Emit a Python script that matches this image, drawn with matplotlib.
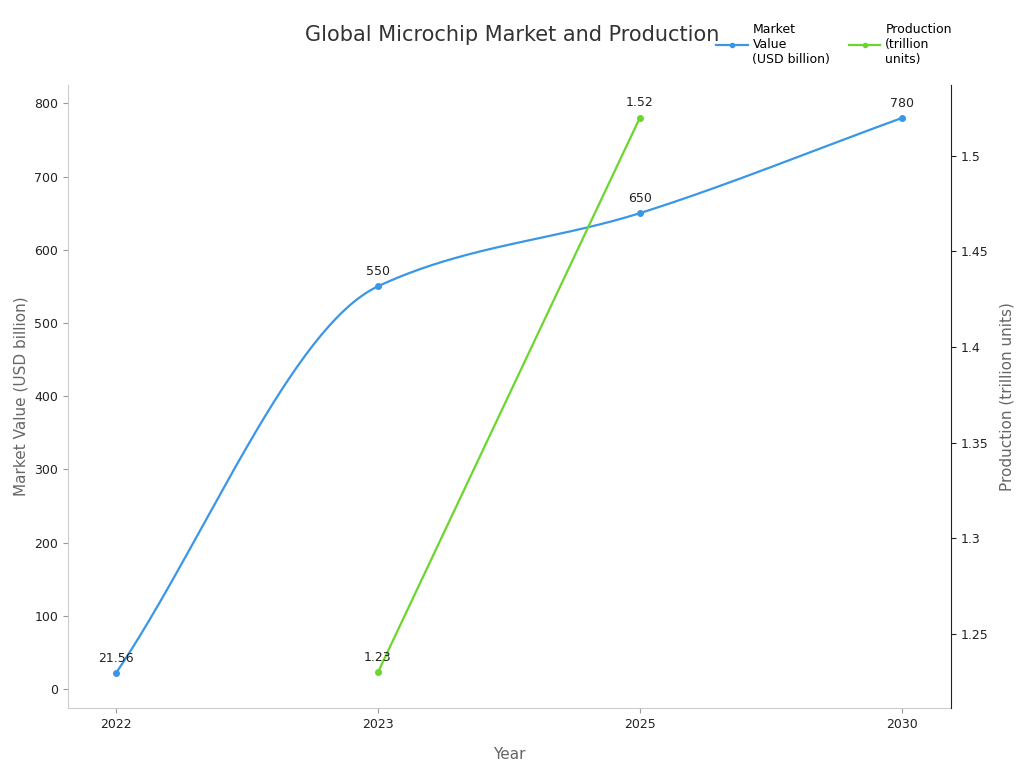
import numpy as np
import matplotlib
matplotlib.use("Agg")
import matplotlib.pyplot as plt

years = ["2022", "2023", "2025", "2030"]
market_value = [21.56, 550, 650, 780]
prod_years = ["2023", "2025"]
production = [1.23, 1.52]

BLUE = "#3a96e6"
GREEN = "#6cd62c"


def pchip(x, y, n=200):
    # monotone cubic for the smooth look of the line
    x = np.asarray(x, float); y = np.asarray(y, float)
    h = np.diff(x); d = np.diff(y) / h
    m = np.zeros_like(y)
    for k in range(1, len(y) - 1):
        if d[k - 1] * d[k] > 0:
            w1 = 2 * h[k] + h[k - 1]; w2 = h[k] + 2 * h[k - 1]
            m[k] = (w1 + w2) / (w1 / d[k - 1] + w2 / d[k])
    m[0] = d[0]; m[-1] = d[-1]
    xs = np.linspace(x[0], x[-1], n)
    i = np.clip(np.searchsorted(x, xs) - 1, 0, len(h) - 1)
    t = (xs - x[i]) / h[i]
    h00 = 2*t**3 - 3*t**2 + 1; h10 = t**3 - 2*t**2 + t
    h01 = -2*t**3 + 3*t**2; h11 = t**3 - t**2
    ys = h00*y[i] + h10*h[i]*m[i] + h01*y[i+1] + h11*h[i]*m[i+1]
    return xs, ys


fig = plt.figure(figsize=(10.24, 7.68), dpi=100)
ax = fig.add_axes([68/1024, 60/768, 883/1024, 623/768])
ax2 = ax.twinx()

xi = np.arange(len(years))
sx, sy = pchip(xi, market_value)
ax.plot(sx, sy, color=BLUE, lw=1.6)
l1, = ax.plot(xi, market_value, color=BLUE, lw=1.6, marker="o", ms=4, ls="none")
for x, v in zip(xi, market_value):
    ax.annotate(f"{v:g}", (x, v), xytext=(0, 6), textcoords="offset points",
                ha="center", va="bottom", fontsize=9, color="#222")

px = [years.index(y) for y in prod_years]
ax2.plot(px, production, color=GREEN, lw=1.6, marker="o", ms=4)
for x, v in zip(px, production):
    ax2.annotate(f"{v:g}", (x, v), xytext=(0, 6), textcoords="offset points",
                 ha="center", va="bottom", fontsize=9, color="#222")

ax.set_xlim(-0.183, 3.187)
ax.set_ylim(-26, 825)
ax2.set_ylim(1.2113, 1.537)
ax.set_xticks(xi)
ax.set_xticklabels(years)
ax.set_yticks(range(0, 801, 100))
ax2.set_yticks([1.25, 1.3, 1.35, 1.4, 1.45, 1.5])
ax2.set_yticklabels(["1.25", "1.3", "1.35", "1.4", "1.45", "1.5"])

for a in (ax, ax2):
    a.spines["top"].set_visible(False)
    a.tick_params(labelsize=9, colors="#222")
ax.spines["left"].set_color("#cccccc")
ax.spines["bottom"].set_color("#cccccc")
ax.spines["right"].set_visible(False)
ax2.spines["left"].set_visible(False)
ax2.spines["bottom"].set_visible(False)
ax2.spines["right"].set_color("#222")
ax.tick_params(axis="both", color="#999")

ax.set_xlabel("Year", fontsize=11, color="#666", labelpad=12)
ax.set_ylabel("Market Value (USD billion)", fontsize=11, color="#666")
ax2.set_ylabel("Production (trillion units)", fontsize=11, color="#666", labelpad=8)

fig.text(0.5, 0.955, "Global Microchip Market and Production", ha="center",
         va="center", fontsize=15, color="#333")

h1 = plt.Line2D([], [], color=BLUE, lw=1.6, marker="o", ms=3)
h2 = plt.Line2D([], [], color=GREEN, lw=1.6, marker="o", ms=3)
fig.legend([h1, h2], ["Market\nValue\n(USD billion)", "Production\n(trillion\nunits)"],
           loc="upper left", bbox_to_anchor=(705/1024, 0.985), ncol=2, frameon=False,
           fontsize=9, handlelength=2.5, columnspacing=1.5, handletextpad=0.4)

fig.savefig("out.png", dpi=100)
